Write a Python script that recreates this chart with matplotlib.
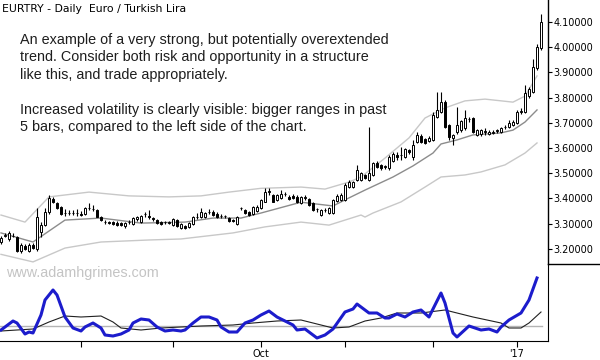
import numpy as np
import pandas as pd
import matplotlib
matplotlib.use("Agg")
from matplotlib import pyplot as plt
from matplotlib.lines import Line2D

# daily bars EURTRY, 26 Dec missing in the feed
dates = pd.bdate_range('2016-07-04', '2017-01-10')
dates = dates[dates != pd.Timestamp('2016-12-26')]

opens = [3.228, 3.250, 3.238, 3.252, 3.245, 3.190, 3.210, 3.192, 3.215, 3.198,
         3.268, 3.294, 3.347, 3.396, 3.380, 3.364, 3.343, 3.342, 3.343, 3.343,
         3.339, 3.338, 3.362, 3.357, 3.354, 3.327, 3.306, 3.305, 3.307, 3.304,
         3.301, 3.290, 3.305, 3.297, 3.317, 3.305, 3.338, 3.330, 3.323, 3.314,
         3.307, 3.305, 3.304, 3.294, 3.314, 3.281, 3.290, 3.288, 3.298, 3.327,
         3.327, 3.327, 3.347, 3.347, 3.340, 3.330, 3.330, 3.321, 3.316, 3.298,
         3.360, 3.354, 3.347, 3.338, 3.351, 3.361, 3.387, 3.427, 3.413, 3.394,
         3.400, 3.417, 3.407, 3.410, 3.407, 3.380, 3.403, 3.398, 3.380, 3.357,
         3.334, 3.354, 3.343, 3.343, 3.390, 3.394, 3.394, 3.446, 3.446, 3.473,
         3.473, 3.493, 3.473, 3.493, 3.539, 3.532, 3.526, 3.519, 3.550, 3.572,
         3.572, 3.566, 3.592, 3.566, 3.625, 3.648, 3.634, 3.629, 3.632, 3.724,
         3.744, 3.784, 3.691, 3.638, 3.665, 3.671, 3.678, 3.714, 3.718, 3.652,
         3.655, 3.665, 3.655, 3.661, 3.669, 3.665, 3.682, 3.685, 3.691, 3.698,
         3.744, 3.744, 3.808, 3.823, 3.916, 3.996]
highs = [3.250, 3.262, 3.270, 3.262, 3.250, 3.222, 3.218, 3.222, 3.222, 3.362,
         3.305, 3.360, 3.412, 3.405, 3.385, 3.368, 3.356, 3.354, 3.355, 3.357,
         3.350, 3.365, 3.380, 3.374, 3.358, 3.330, 3.315, 3.312, 3.312, 3.310,
         3.306, 3.308, 3.314, 3.326, 3.332, 3.336, 3.346, 3.354, 3.328, 3.318,
         3.311, 3.312, 3.310, 3.322, 3.318, 3.301, 3.295, 3.308, 3.330, 3.343,
         3.360, 3.348, 3.356, 3.352, 3.345, 3.338, 3.336, 3.325, 3.320, 3.330,
         3.366, 3.358, 3.350, 3.368, 3.372, 3.398, 3.440, 3.440, 3.418, 3.418,
         3.433, 3.426, 3.412, 3.416, 3.412, 3.408, 3.412, 3.402, 3.384, 3.362,
         3.358, 3.360, 3.364, 3.398, 3.416, 3.420, 3.460, 3.472, 3.470, 3.532,
         3.505, 3.498, 3.685, 3.545, 3.548, 3.538, 3.534, 3.572, 3.584, 3.585,
         3.603, 3.600, 3.598, 3.632, 3.665, 3.655, 3.640, 3.646, 3.744, 3.824,
         3.824, 3.790, 3.696, 3.656, 3.764, 3.712, 3.751, 3.724, 3.722, 3.676,
         3.676, 3.678, 3.670, 3.670, 3.676, 3.684, 3.690, 3.712, 3.710, 3.751,
         3.757, 3.850, 3.843, 3.953, 4.012, 4.132]
lows = [3.220, 3.245, 3.232, 3.245, 3.188, 3.185, 3.195, 3.188, 3.198, 3.192,
        3.245, 3.290, 3.340, 3.383, 3.358, 3.335, 3.332, 3.333, 3.334, 3.332,
        3.330, 3.334, 3.355, 3.350, 3.325, 3.310, 3.298, 3.297, 3.294, 3.292,
        3.290, 3.284, 3.298, 3.294, 3.312, 3.302, 3.328, 3.318, 3.312, 3.300,
        3.294, 3.298, 3.297, 3.290, 3.286, 3.277, 3.278, 3.284, 3.294, 3.320,
        3.322, 3.322, 3.340, 3.330, 3.323, 3.322, 3.323, 3.306, 3.308, 3.294,
        3.355, 3.337, 3.330, 3.334, 3.348, 3.357, 3.384, 3.412, 3.384, 3.390,
        3.396, 3.408, 3.392, 3.396, 3.383, 3.376, 3.395, 3.370, 3.350, 3.345,
        3.330, 3.346, 3.338, 3.340, 3.386, 3.390, 3.390, 3.440, 3.442, 3.468,
        3.468, 3.476, 3.468, 3.488, 3.520, 3.514, 3.518, 3.514, 3.545, 3.552,
        3.552, 3.560, 3.578, 3.552, 3.620, 3.620, 3.614, 3.624, 3.628, 3.718,
        3.738, 3.678, 3.632, 3.612, 3.655, 3.664, 3.672, 3.705, 3.658, 3.646,
        3.648, 3.650, 3.650, 3.654, 3.660, 3.660, 3.675, 3.680, 3.686, 3.694,
        3.735, 3.738, 3.800, 3.818, 3.910, 3.990]
closes = [3.242, 3.255, 3.262, 3.250, 3.192, 3.215, 3.200, 3.215, 3.205, 3.327,
          3.294, 3.347, 3.400, 3.387, 3.360, 3.338, 3.342, 3.343, 3.343, 3.342,
          3.336, 3.360, 3.363, 3.356, 3.328, 3.314, 3.305, 3.304, 3.298, 3.296,
          3.294, 3.304, 3.305, 3.321, 3.327, 3.331, 3.338, 3.328, 3.317, 3.304,
          3.298, 3.305, 3.304, 3.317, 3.290, 3.297, 3.281, 3.304, 3.327, 3.328,
          3.347, 3.343, 3.347, 3.334, 3.327, 3.330, 3.330, 3.310, 3.312, 3.327,
          3.360, 3.341, 3.334, 3.364, 3.367, 3.392, 3.427, 3.427, 3.387, 3.413,
          3.417, 3.417, 3.396, 3.400, 3.387, 3.404, 3.403, 3.374, 3.354, 3.357,
          3.354, 3.354, 3.360, 3.394, 3.410, 3.413, 3.453, 3.466, 3.466, 3.513,
          3.500, 3.480, 3.502, 3.539, 3.526, 3.519, 3.526, 3.565, 3.577, 3.563,
          3.572, 3.595, 3.583, 3.612, 3.652, 3.625, 3.619, 3.641, 3.731, 3.751,
          3.784, 3.685, 3.645, 3.652, 3.691, 3.707, 3.718, 3.714, 3.665, 3.671,
          3.671, 3.665, 3.665, 3.661, 3.669, 3.678, 3.682, 3.698, 3.704, 3.744,
          3.746, 3.817, 3.833, 3.923, 4.002, 4.101]

# channel lines (bar index, price)
upper_idx = [0, 6, 12, 22, 32, 42, 50, 57, 65, 75, 81, 87, 90, 96, 102, 106, 111,
             116, 121, 128, 131, 134]
upper_val = [3.334, 3.306, 3.406, 3.425, 3.410, 3.406, 3.410, 3.425, 3.440, 3.445,
             3.437, 3.465, 3.485, 3.560, 3.640, 3.719, 3.759, 3.787, 3.794, 3.782,
             3.806, 3.886]
mid_idx = [0, 8, 16, 25, 35, 46, 53, 60, 65, 75, 83, 87, 91, 98, 103, 108, 110,
           114, 118, 125, 128, 131, 134]
mid_val = [3.263, 3.227, 3.314, 3.322, 3.302, 3.306, 3.322, 3.322, 3.342, 3.385,
           3.370, 3.402, 3.433, 3.485, 3.529, 3.580, 3.616, 3.632, 3.652, 3.660,
           3.671, 3.703, 3.751]
lower_idx = [0, 8, 16, 25, 37, 45, 58, 66, 75, 82, 90, 91, 93, 100, 106, 110, 116,
             120, 126, 131, 134]
lower_val = [3.178, 3.148, 3.203, 3.227, 3.235, 3.239, 3.263, 3.287, 3.306, 3.294,
             3.334, 3.326, 3.342, 3.386, 3.445, 3.485, 3.493, 3.505, 3.533, 3.580,
             3.620]

# lower study: oscillator and its average
osc_idx = [0, 3, 4, 6, 7, 8, 10, 11, 13, 14, 16, 18, 20, 21, 23, 25, 26, 28, 30, 32,
           33, 35, 37, 39, 41, 43, 45, 46, 48, 50, 52, 54, 55, 57, 59, 61, 63, 65, 67, 69,
           70, 73, 74, 76, 77, 79, 81, 83, 86, 88, 89, 90, 92, 94, 96, 97, 99, 101, 103, 105,
           107, 110, 111, 113, 114, 117, 120, 122, 124, 125, 127, 130, 132, 134]
osc_val = [-0.4, 0.5, 0.3, -0.8, -0.6, -0.7, 1.1, 2.6, 3.6, 3.1, 0.9, -0.2, -0.5, -0.1, 0.3, -0.2,
           -0.9, -1.0, -0.8, -0.4, 0.3, 0.7, 0.6, -0.1, -0.5, -0.4, -0.5, -0.4, 0.3, 0.9,
           0.9, 0.6, -0.1, -0.6, -0.6, 0.3, 0.6, 1.1, 1.5, 0.9, 0.7, 0.1, -0.4, -0.3,
           -0.6, -1.2, -0.9, -0.3, 1.4, 1.7, 2.2, 1.9, 1.3, 1.3, 0.8, 0.8, 1.2, 0.9,
           1.4, 1.6, 0.9, 3.3, 2.3, -0.7, -1.1, 0.0, -0.4, -0.3, -0.6, -0.1, 0.6, 1.3,
           2.6, 4.8]
sig_idx = [0, 8, 12, 16, 20, 25, 28, 30, 35, 40, 45, 50, 58, 63, 69, 75, 76, 80, 83, 87,
           91, 95, 99, 105, 111, 118, 125, 127, 130, 132, 135]
sig_val = [-0.5, -0.3, 0.4, 1.0, 0.9, 1.0, 0.4, -0.2, -0.4, -0.2, -0.1, 0.0, 0.1, 0.3,
           0.5, 0.6, 0.5, 0.1, -0.2, -0.1, 0.5, 0.8, 1.3, 1.3, 1.6, 0.9, 0.3, -0.2,
           -0.2, 0.3, 1.4]

o = np.array(opens)
h = np.array(highs)
l = np.array(lows)
c = np.array(closes)
x = np.arange(len(c))
up = c >= o

fig = plt.figure(figsize=(6, 3.6), dpi=100)
ax = fig.add_axes([0, 1 - 264 / 360, 548 / 600, 264 / 360])
ax2 = fig.add_axes([0, 1 - 341 / 360, 548 / 600, 77 / 360], sharex=ax)

# channel
ax.plot(upper_idx, upper_val, color='#c8c8c8', lw=1, zorder=1)
ax.plot(mid_idx, mid_val, color='#8c8c8c', lw=1, zorder=1)
ax.plot(lower_idx, lower_val, color='#c8c8c8', lw=1, zorder=1)

# candles
ax.vlines(x, l, h, color='black', lw=0.8, zorder=2)
bot = np.minimum(o, c)
hgt = np.maximum(np.abs(c - o), 0.001)
ax.bar(x[up], hgt[up], bottom=bot[up], width=0.72, facecolor='white',
       edgecolor='black', lw=0.7, zorder=3)
ax.bar(x[~up], hgt[~up], bottom=bot[~up], width=0.72, facecolor='black',
       edgecolor='black', lw=0.7, zorder=3)

ax.set_xlim(-0.25, 136.75)
ax.set_ylim(3.1397, 4.1873)
ax.yaxis.tick_right()
ax.set_yticks(np.arange(3.2, 4.15, 0.1))
ax.yaxis.set_major_formatter(plt.FormatStrFormatter('%.5f'))
ax.tick_params(axis='y', direction='out', length=3, width=0.8, pad=1, labelsize=7)
ax.tick_params(axis='x', bottom=False, labelbottom=False)
for s in ['left', 'top', 'bottom']:
    ax.spines[s].set_visible(False)
ax.spines['right'].set_linewidth(1)
ax.patch.set_alpha(0)

# lower study
ax2.axhline(0, color='#b4b4b4', lw=1, xmax=135.5 / 137)
ax2.plot(sig_idx, sig_val, color='#202020', lw=0.8)
ax2.plot(osc_idx, osc_val, color='#1c1ccc', lw=2.2)
ax2.set_ylim(-1.5, 6.2)
ax2.set_yticks([])
month_starts = [20, 43, 65, 86, 108, 129]
ax2.set_xticks(month_starts)
ax2.set_xticklabels(['', '', 'Oct', '', '', "'17"])
ax2.tick_params(axis='x', direction='out', length=4, width=0.8, pad=2, labelsize=7)
for s in ['left', 'top']:
    ax2.spines[s].set_visible(False)
ax2.patch.set_alpha(0)

fig.add_artist(Line2D([548 / 600, 1], [1 - 264 / 360] * 2, color='black', lw=1,
                      transform=fig.transFigure))

fig.text(2 / 600, 1 - 9 / 360, 'EURTRY - Daily  Euro / Turkish Lira',
         fontsize=7.8, va='center', family='DejaVu Sans')

notes = ['An example of a very strong, but potentially overextended',
         'trend. Consider both risk and opportunity in a structure',
         'like this, and trade appropriately.',
         '',
         'Increased volatility is clearly visible: bigger ranges in past',
         '5 bars, compared to the left side of the chart.']
for k, line in enumerate(notes):
    fig.text(20 / 600, 1 - (40 + 17.4 * k) / 360, line, fontsize=10.4,
             va='center', family='Liberation Sans', color='#1e1e1e')

fig.text(6 / 600, 1 - 273 / 360, 'www.adamhgrimes.com', fontsize=10.4,
         va='center', family='Liberation Sans', color='#c4c4c4')

fig.savefig('out.png', dpi=100)
